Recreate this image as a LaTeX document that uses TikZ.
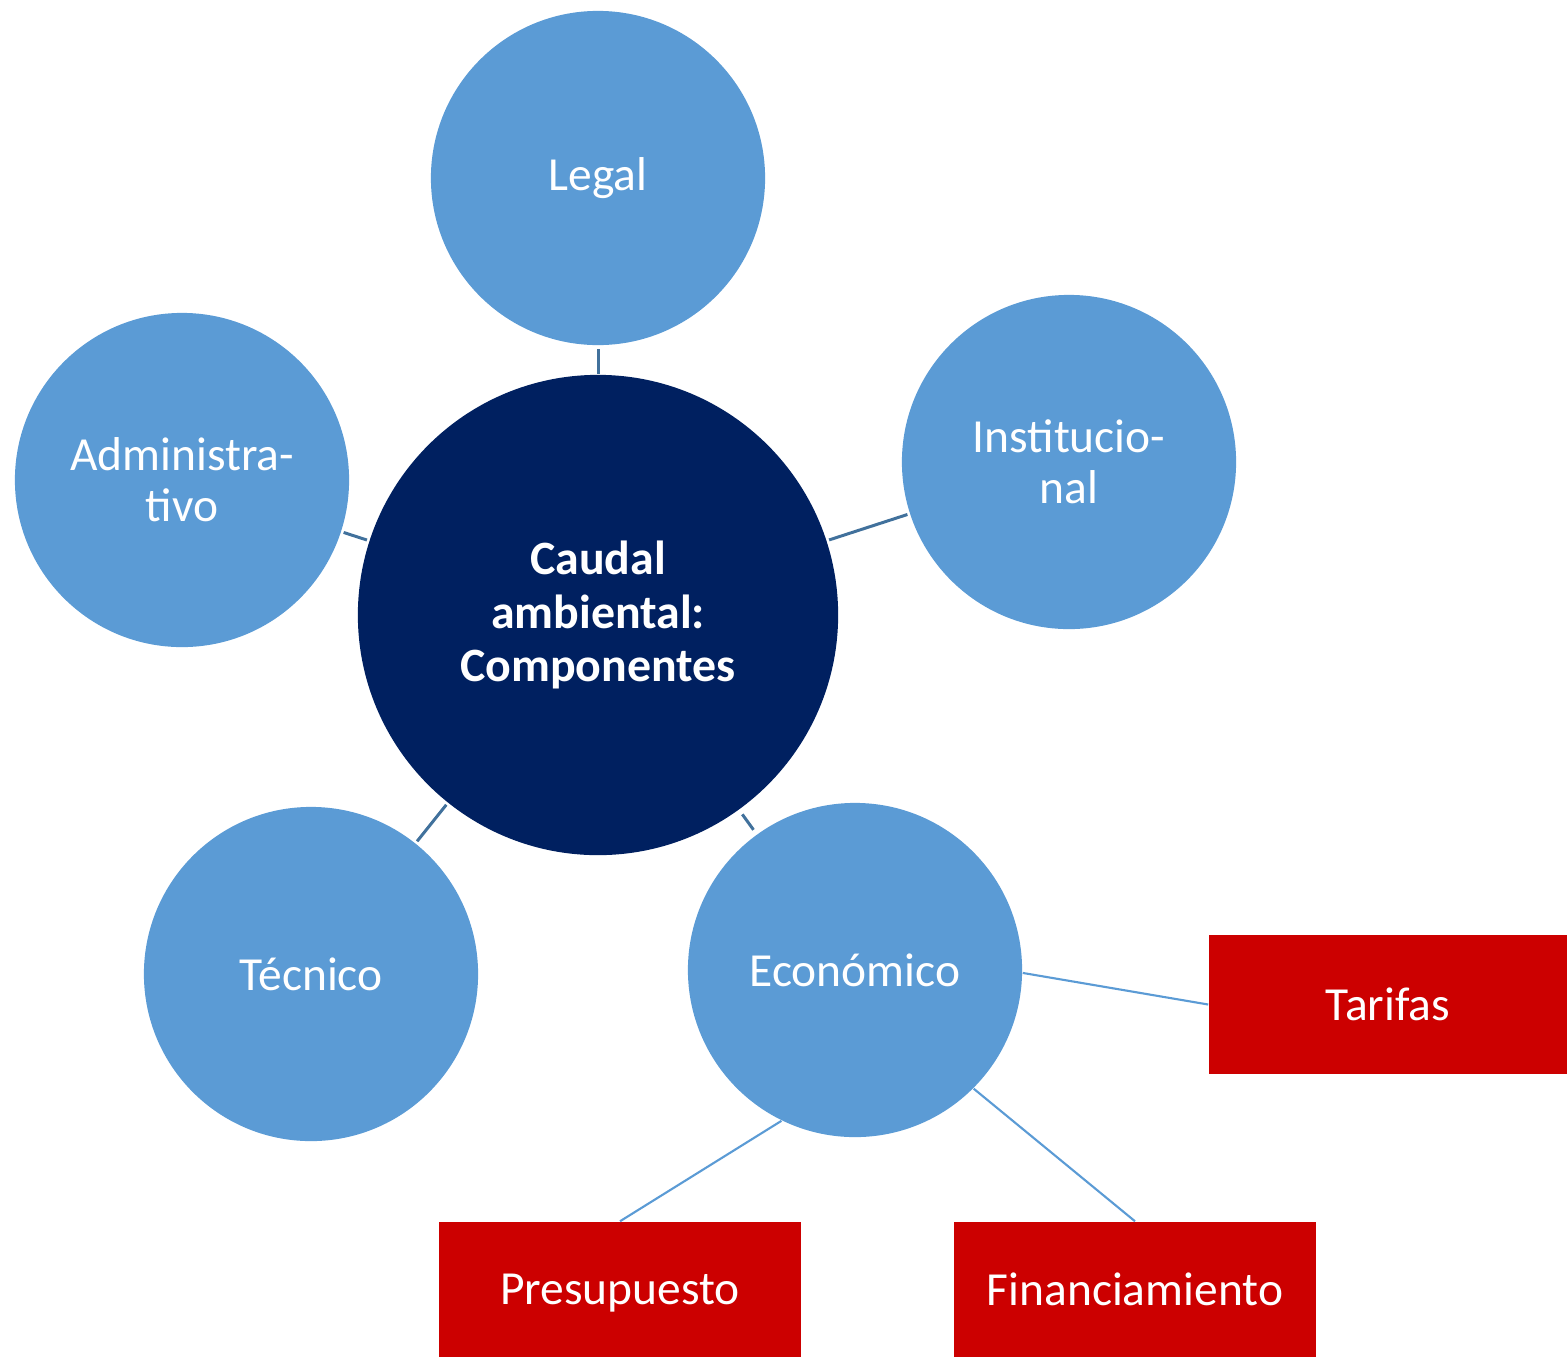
\documentclass[tikz,border=0pt]{standalone}
\usepackage{fontspec}
\setmainfont{Carlito}
\definecolor{navy}{HTML}{002060}
\definecolor{lblue}{HTML}{5B9BD5}
\definecolor{lineblue}{HTML}{41719C}
\definecolor{boxred}{HTML}{CC0000}
\begin{document}
\begin{tikzpicture}[x=0.01cm,y=-0.01cm,
  hub/.style={circle,fill=navy,minimum size=4.8cm,inner sep=0pt,text=white,font=\fontsize{13.6pt}{15.2pt}\selectfont\bfseries,align=center,text width=3.6cm},
  sat/.style={circle,fill=lblue,minimum size=3.34cm,inner sep=0pt,text=white,font=\fontsize{13.5pt}{14.6pt}\selectfont,align=center,text width=2.8cm},
  redbox/.style={rectangle,fill=boxred,inner sep=0pt,text=white,font=\fontsize{13.5pt}{14.6pt}\selectfont,text depth=0pt,minimum width=3.6cm,minimum height=1.36cm},
  conn/.style={draw=lineblue,line width=0.85pt},
  subconn/.style={draw=lblue,line width=0.6pt}]
\useasboundingbox (0,0) rectangle (1567,1357);
\node[hub] (c) at (598,615) {Caudal\\ambiental:\\Componentes};
\node[sat] (legal) at (598,178) {Legal};
\node[sat] (inst) at (1069,462) {Institucio-\\nal};
\node[sat] (adm) at (182,480) {Administra-\\tivo};
\node[sat] (tec) at (311,974) {Técnico};
\node[sat] (eco) at (855,970) {Económico};
\node[redbox,minimum width=3.58cm,minimum height=1.39cm] (tar) at (1388,1004.5) {Tarifas};
\node[redbox,minimum width=3.62cm,minimum height=1.35cm] (pre) at (620,1289.5) {Presupuesto};
\node[redbox,minimum width=3.62cm,minimum height=1.35cm] (fin) at (1135,1289.5) {Financiamiento};
\draw[conn,shorten <=1pt] (legal) -- (c);
\draw[conn,shorten <=0.6pt,shorten >=0.6pt] (inst) -- (c);
\draw[conn,shorten <=0.6pt,shorten >=0.6pt] (adm) -- (c);
\draw[conn,shorten <=0.6pt,shorten >=0.6pt] (tec) -- (c);
\draw[conn,shorten <=1.5pt,shorten >=1.5pt] (eco) -- (c);
\draw[subconn] (eco.-1) -- (tar.west);
\draw[subconn] (eco.-116.7) -- (pre.north);
\draw[subconn] (eco.-45.2) -- (fin.north);
\end{tikzpicture}
\end{document}
